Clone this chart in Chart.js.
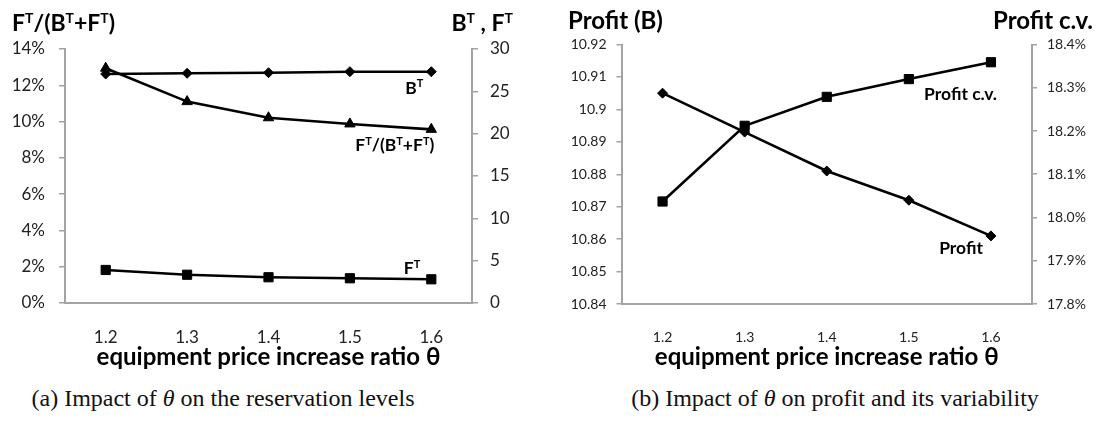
<!DOCTYPE html>
<html>
<head>
<meta charset="utf-8">
<script src="https://cdn.jsdelivr.net/npm/chart.js@4.4.1/dist/chart.umd.min.js"></script>
<style>
  html, body { margin: 0; padding: 0; background: #fff; }
  body { width: 1101px; height: 426px; position: relative; overflow: hidden; }
  .panel { position: absolute; top: 0; height: 380px; }
  #wrapA { left: 0; width: 550px; }
  #wrapB { left: 550px; width: 551px; }
  .caption {
    position: absolute; top: 385px; white-space: nowrap;
    font-family: "Liberation Serif", "DejaVu Serif", serif; font-size: 24px; color: #111;
    transform: translateX(-50%);
  }
  .caption i { font-style: italic; }
</style>
</head>
<body>
<div class="panel" id="wrapA"><canvas id="chartA" width="550" height="380"></canvas></div>
<div class="panel" id="wrapB"><canvas id="chartB" width="551" height="380"></canvas></div>
<div class="caption" style="left:223px">(a) Impact of <i>θ</i> on the reservation levels</div>
<div class="caption" style="left:835px">(b) Impact of <i>θ</i> on profit and its variability</div>

<script>
// equipment price increase ratio θ
const thetaLabels = ['1.2', '1.3', '1.4', '1.5', '1.6'];

// panel (a): reservation levels
const bTotal = [27.05, 27.13, 27.2, 27.32, 27.32];      // B^T (right axis)
const fTotal = [3.90, 3.34, 3.04, 2.92, 2.80];          // F^T (right axis)
const fShare = [12.94, 11.10, 10.21, 9.87, 9.57];       // F^T/(B^T+F^T), % (left axis)

// panel (b): profit and its coefficient of variation
const profit = [10.905, 10.893, 10.881, 10.872, 10.861]; // left axis
const profitCv = [18.037, 18.212, 18.279, 18.320, 18.359]; // %, right axis

const AXIS_GREY = '#a3a3a3';
const FONT = 'Lato, "Open Sans", sans-serif';

// text with superscript segments, drawn on the canvas
function richWidth(ctx, parts, size) {
  let w = 0;
  for (const p of parts) {
    ctx.font = 'bold ' + (p.sup ? Math.round(size * 0.62) : size) + 'px ' + FONT;
    w += ctx.measureText(p.t).width;
  }
  return w;
}
function drawRich(ctx, parts, x, y, size, align) {
  const w = richWidth(ctx, parts, size);
  let cx = align === 'right' ? x - w : (align === 'center' ? x - w / 2 : x);
  ctx.save();
  ctx.fillStyle = '#000';
  ctx.textBaseline = 'alphabetic';
  ctx.textAlign = 'left';
  for (const p of parts) {
    const s = p.sup ? Math.round(size * 0.62) : size;
    ctx.font = 'bold ' + s + 'px ' + FONT;
    ctx.fillText(p.t, cx, p.sup ? y - size * 0.36 : y);
    cx += ctx.measureText(p.t).width;
  }
  ctx.restore();
}
const T = { t: 'T', sup: true };

const richText = {
  id: 'richText',
  afterDatasetsDraw(chart, args, opts) {
    const ctx = chart.ctx;
    for (const a of opts.titles || []) drawRich(ctx, a.parts, a.x, a.y, a.size, a.align);
    for (const a of opts.marks || []) {
      const pt = chart.getDatasetMeta(a.dataset).data[a.index];
      drawRich(ctx, a.parts, pt.x + a.dx, pt.y + a.dy, a.size, a.align);
    }
  }
};

function yAxis(position, width, min, max, step, fmt, size, pad, tickLen) {
  return {
    type: 'linear', position, min, max,
    afterFit(s) { s.width = width; },
    border: { display: true, color: AXIS_GREY, width: 2 },
    grid: { display: true, drawOnChartArea: false, drawTicks: true, tickLength: tickLen, color: AXIS_GREY, lineWidth: 1.5 },
    ticks: { stepSize: step, callback: fmt, color: '#222', padding: pad, font: { family: FONT, size } }
  };
}
function xAxis(height, size, pad) {
  return {
    type: 'category', offset: true,
    afterFit(s) { s.height = height; },
    border: { display: true, color: AXIS_GREY, width: 2 },
    grid: { display: false },
    ticks: { color: '#222', padding: pad, maxRotation: 0, font: { family: FONT, size } },
    title: { display: true, text: 'equipment price increase ratio θ', color: '#000',
             padding: { top: 0, bottom: 8 }, font: { family: FONT, size: 24, weight: 'bold' } }
  };
}
function lineSet(data, axis, style, radius) {
  return {
    data, yAxisID: axis, borderColor: '#000', backgroundColor: '#000', borderWidth: 2.6,
    pointStyle: style, pointRadius: radius, pointHoverRadius: radius, pointBorderWidth: 1,
    pointBackgroundColor: '#000', pointBorderColor: '#000', tension: 0, clip: false
  };
}

new Chart(document.getElementById('chartA'), {
  type: 'line',
  data: {
    labels: thetaLabels,
    datasets: [
      lineSet(bTotal, 'yR', 'rectRot', 5),
      lineSet(fShare, 'yL', 'triangle', 6),
      lineSet(fTotal, 'yR', 'rect', 6.5)
    ]
  },
  options: {
    responsive: false, animation: false, events: [],
    layout: { padding: { top: 49, left: 0, right: 0, bottom: 0 } },
    plugins: {
      legend: { display: false }, tooltip: { enabled: false },
      richText: {
        titles: [
          { parts: [{ t: 'F' }, T, { t: '/(B' }, T, { t: '+F' }, T, { t: ')' }], x: 12, y: 31, size: 23, align: 'left' },
          { parts: [{ t: 'B' }, T, { t: ' , F' }, T], x: 513, y: 31, size: 23, align: 'right' }
        ],
        marks: [
          { parts: [{ t: 'B' }, T], dataset: 0, index: 4, dx: -26, dy: 22, size: 17.5, align: 'left' },
          { parts: [{ t: 'F' }, T, { t: '/(B' }, T, { t: '+F' }, T, { t: ')' }], dataset: 1, index: 4, dx: 3, dy: 22, size: 17.5, align: 'right' },
          { parts: [{ t: 'F' }, T], dataset: 2, index: 4, dx: -11, dy: -5, size: 17.5, align: 'right' }
        ]
      }
    },
    scales: {
      x: xAxis(77, 17, 16),
      yL: yAxis('left', 65, 0, 14, 2, v => v + '%', 17, 14, 6),
      yR: yAxis('right', 78, 0, 30, 5, v => String(v), 17, 12, 6)
    }
  },
  plugins: [richText]
});

new Chart(document.getElementById('chartB'), {
  type: 'line',
  data: {
    labels: thetaLabels,
    datasets: [
      lineSet(profit, 'yL', 'rectRot', 5),
      lineSet(profitCv, 'yR', 'rect', 6.5)
    ]
  },
  options: {
    responsive: false, animation: false, events: [],
    layout: { padding: { top: 44.5, left: 0, right: 0, bottom: 0 } },
    plugins: {
      legend: { display: false }, tooltip: { enabled: false },
      richText: {
        titles: [
          { parts: [{ t: 'Profit (B)' }], x: 18, y: 29, size: 24, align: 'left' },
          { parts: [{ t: 'Profit c.v.' }], x: 543, y: 29, size: 24, align: 'right' }
        ],
        marks: [
          { parts: [{ t: 'Profit' }], dataset: 0, index: 4, dx: -8, dy: 18, size: 17.5, align: 'right' },
          { parts: [{ t: 'Profit c.v.' }], dataset: 1, index: 4, dx: 6, dy: 38, size: 17.5, align: 'right' }
        ]
      }
    },
    scales: {
      x: xAxis(76, 14, 17),
      yL: yAxis('left', 71.5, 10.84, 10.92, 0.01, v => String(Number(v.toFixed(2))), 14, 10, 5),
      yR: yAxis('right', 69, 17.8, 18.4, 0.1, v => v.toFixed(1) + '%', 14, 10, 5)
    }
  },
  plugins: [richText]
});
</script>
</body>
</html>
